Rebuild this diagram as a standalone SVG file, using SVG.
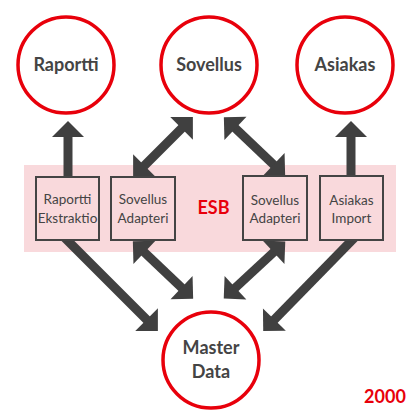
<svg xmlns="http://www.w3.org/2000/svg" width="420" height="420" viewBox="0 0 420 420">
<style>
.circle{fill:#fff;stroke:#e8000b;stroke-width:3.5}
.box{fill:#f9d9dc;stroke:#444;stroke-width:2}
.big{font-family:Lato,"Liberation Sans",sans-serif;font-weight:bold;font-size:18px;fill:#444;text-anchor:middle}
.small{font-family:Lato,"Liberation Sans",sans-serif;font-size:13.5px;fill:#444;text-anchor:middle}
.red{font-family:Lato,"Liberation Sans",sans-serif;font-weight:bold;font-size:18px;fill:#e8000b;text-anchor:middle}
.conn{stroke:#404040;stroke-width:9;fill:none}
</style>
<defs>
<marker id="ah" markerUnits="userSpaceOnUse" markerWidth="20" markerHeight="34" viewBox="0 -17 18 34" refX="2" refY="0" orient="auto-start-reverse">
<path d="M0,-16 L16,0 L0,16 z" fill="#404040"/>
</marker>
</defs>
<rect x="24" y="165" width="372" height="87" fill="#f9d9dc"/>
<g id="connectors">
<line class="conn" x1="68" y1="185" x2="68" y2="135" marker-end="url(#ah)"/>
<line class="conn" x1="351" y1="185" x2="351" y2="135" marker-end="url(#ah)"/>
<line class="conn" x1="143" y1="167" x2="183" y2="127" marker-start="url(#ah)" marker-end="url(#ah)"/>
<line class="conn" x1="234" y1="127" x2="275" y2="166" marker-start="url(#ah)" marker-end="url(#ah)"/>
<line class="conn" x1="60" y1="233" x2="148" y2="321" marker-end="url(#ah)"/>
<line class="conn" x1="143" y1="251" x2="183" y2="289" marker-start="url(#ah)" marker-end="url(#ah)"/>
<line class="conn" x1="275" y1="251" x2="234" y2="289" marker-start="url(#ah)" marker-end="url(#ah)"/>
<line class="conn" x1="359" y1="233" x2="273" y2="321" marker-end="url(#ah)"/>
</g>
<g id="raportti">
<circle class="circle" cx="66" cy="65" r="48"/>
<text class="big" x="66" y="71">Raportti</text>
</g>
<g id="sovellus">
<circle class="circle" cx="209" cy="65" r="48"/>
<text class="big" x="209" y="71">Sovellus</text>
</g>
<g id="asiakas">
<circle class="circle" cx="345" cy="65" r="48"/>
<text class="big" x="345" y="71">Asiakas</text>
</g>
<g id="master">
<circle class="circle" cx="211" cy="360" r="48"/>
<text class="big" x="211" y="354">Master</text>
<text class="big" x="211" y="378">Data</text>
</g>
<g id="raportti-ekstraktio">
<rect class="box" x="36" y="177" width="63" height="63"/>
<text class="small" x="67.5" y="204">Raportti</text>
<text class="small" x="67.5" y="223">Ekstraktio</text>
</g>
<g id="sovellus-adapteri-1">
<rect class="box" x="111" y="177" width="64" height="63"/>
<text class="small" x="143" y="204">Sovellus</text>
<text class="small" x="143" y="223">Adapteri</text>
</g>
<g id="esb">
<text class="red" x="213.5" y="214">ESB</text>
</g>
<g id="sovellus-adapteri-2">
<rect class="box" x="243" y="176" width="64" height="64"/>
<text class="small" x="275" y="205">Sovellus</text>
<text class="small" x="275" y="223">Adapteri</text>
</g>
<g id="asiakas-import">
<rect class="box" x="320" y="176" width="63" height="64"/>
<text class="small" x="351.5" y="205">Asiakas</text>
<text class="small" x="351.5" y="223">Import</text>
</g>
<text class="red" x="385" y="403">2000</text>
</svg>
